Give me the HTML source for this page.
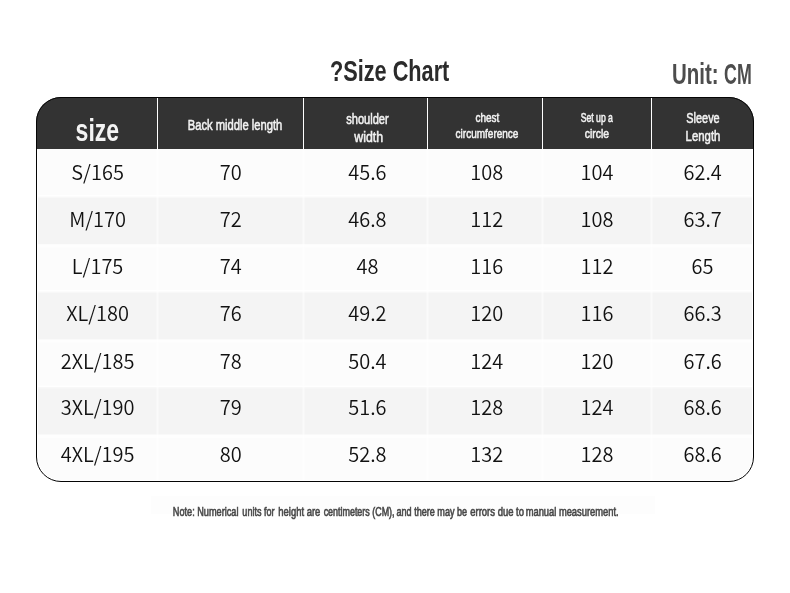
<!DOCTYPE html>
<html lang="en"><head><meta charset="utf-8"><title>Size Chart</title>
<style>
html,body{margin:0;padding:0;background:#fff;}
body{width:790px;height:593px;overflow:hidden;}
svg{display:block}
.d{font-size:20px;fill:#111;font-weight:350}
</style></head><body>
<svg width="790" height="593" viewBox="0 0 790 593">
<rect width="790" height="593" fill="#ffffff"/>
<rect x="151" y="496" width="504" height="18" fill="#fdfdfd"/>
<defs><clipPath id="c"><rect x="36.0" y="97.0" width="718.0" height="385.0" rx="25" ry="25"/></clipPath><clipPath id="ci"><rect x="38.0" y="97.0" width="714.0" height="383.0" rx="23" ry="23"/></clipPath></defs>
<g clip-path="url(#ci)">
<rect x="36.0" y="149.00" width="718.0" height="48.30" fill="#fcfcfc"/>
<rect x="36.0" y="196.80" width="718.0" height="47.90" fill="#f4f4f4"/>
<rect x="36.0" y="244.20" width="718.0" height="48.10" fill="#fcfcfc"/>
<rect x="36.0" y="291.80" width="718.0" height="48.10" fill="#f4f4f4"/>
<rect x="36.0" y="339.40" width="718.0" height="48.30" fill="#fcfcfc"/>
<rect x="36.0" y="387.20" width="718.0" height="47.80" fill="#f4f4f4"/>
<rect x="36.0" y="434.50" width="718.0" height="47.00" fill="#fcfcfc"/>
<rect x="36.0" y="195.00" width="718.0" height="1.8" fill="#ffffff" opacity="0.8"/>
<rect x="36.0" y="196.80" width="718.0" height="1.5" fill="#fcfcfc" opacity="0.5"/>
<rect x="36.0" y="244.50" width="718.0" height="3" fill="#ffffff" opacity="0.7"/>
<rect x="36.0" y="290.00" width="718.0" height="1.8" fill="#ffffff" opacity="0.8"/>
<rect x="36.0" y="291.80" width="718.0" height="1.5" fill="#fcfcfc" opacity="0.5"/>
<rect x="36.0" y="339.70" width="718.0" height="3" fill="#ffffff" opacity="0.7"/>
<rect x="36.0" y="385.40" width="718.0" height="1.8" fill="#ffffff" opacity="0.8"/>
<rect x="36.0" y="387.20" width="718.0" height="1.5" fill="#fcfcfc" opacity="0.5"/>
<rect x="36.0" y="434.80" width="718.0" height="3" fill="#ffffff" opacity="0.7"/>
<rect x="156.50" y="149.0" width="2" height="333.0" fill="#ffffff" opacity="0.5"/>
<rect x="302.50" y="149.0" width="2" height="333.0" fill="#ffffff" opacity="0.5"/>
<rect x="426.50" y="149.0" width="2" height="333.0" fill="#ffffff" opacity="0.5"/>
<rect x="541.50" y="149.0" width="2" height="333.0" fill="#ffffff" opacity="0.5"/>
<rect x="650.50" y="149.0" width="2" height="333.0" fill="#ffffff" opacity="0.5"/>
</g>
<g clip-path="url(#c)">
<rect x="36.0" y="97.0" width="718.0" height="52.0" fill="#333333"/>
<rect x="157" y="97.0" width="1" height="52.0" fill="#ffffff"/>
<rect x="303" y="97.0" width="1" height="52.0" fill="#ffffff"/>
<rect x="427" y="97.0" width="1" height="52.0" fill="#ffffff"/>
<rect x="542" y="97.0" width="1" height="52.0" fill="#ffffff"/>
<rect x="651" y="97.0" width="1" height="52.0" fill="#ffffff"/>
</g>
<rect x="36.5" y="97.5" width="717.0" height="384.0" rx="24.5" ry="24.5" fill="none" stroke="#050505" stroke-width="1"/>
<text x="97.6" y="180.0" text-anchor="middle" font-family="'Noto Sans CJK SC', 'Liberation Sans', sans-serif" class="d">S/165</text>
<text x="230.8" y="180.0" text-anchor="middle" font-family="'Noto Sans CJK SC', 'Liberation Sans', sans-serif" class="d">70</text>
<text x="367.4" y="180.0" text-anchor="middle" font-family="'Noto Sans CJK SC', 'Liberation Sans', sans-serif" class="d">45.6</text>
<text x="486.8" y="180.0" text-anchor="middle" font-family="'Noto Sans CJK SC', 'Liberation Sans', sans-serif" class="d">108</text>
<text x="597.1" y="180.0" text-anchor="middle" font-family="'Noto Sans CJK SC', 'Liberation Sans', sans-serif" class="d">104</text>
<text x="702.6" y="180.0" text-anchor="middle" font-family="'Noto Sans CJK SC', 'Liberation Sans', sans-serif" class="d">62.4</text>
<text x="97.6" y="227.0" text-anchor="middle" font-family="'Noto Sans CJK SC', 'Liberation Sans', sans-serif" class="d">M/170</text>
<text x="230.8" y="227.0" text-anchor="middle" font-family="'Noto Sans CJK SC', 'Liberation Sans', sans-serif" class="d">72</text>
<text x="367.4" y="227.0" text-anchor="middle" font-family="'Noto Sans CJK SC', 'Liberation Sans', sans-serif" class="d">46.8</text>
<text x="486.8" y="227.0" text-anchor="middle" font-family="'Noto Sans CJK SC', 'Liberation Sans', sans-serif" class="d">112</text>
<text x="597.1" y="227.0" text-anchor="middle" font-family="'Noto Sans CJK SC', 'Liberation Sans', sans-serif" class="d">108</text>
<text x="702.6" y="227.0" text-anchor="middle" font-family="'Noto Sans CJK SC', 'Liberation Sans', sans-serif" class="d">63.7</text>
<text x="97.6" y="273.8" text-anchor="middle" font-family="'Noto Sans CJK SC', 'Liberation Sans', sans-serif" class="d">L/175</text>
<text x="230.8" y="273.8" text-anchor="middle" font-family="'Noto Sans CJK SC', 'Liberation Sans', sans-serif" class="d">74</text>
<text x="367.4" y="273.8" text-anchor="middle" font-family="'Noto Sans CJK SC', 'Liberation Sans', sans-serif" class="d">48</text>
<text x="486.8" y="273.8" text-anchor="middle" font-family="'Noto Sans CJK SC', 'Liberation Sans', sans-serif" class="d">116</text>
<text x="597.1" y="273.8" text-anchor="middle" font-family="'Noto Sans CJK SC', 'Liberation Sans', sans-serif" class="d">112</text>
<text x="702.6" y="273.8" text-anchor="middle" font-family="'Noto Sans CJK SC', 'Liberation Sans', sans-serif" class="d">65</text>
<text x="97.6" y="321.2" text-anchor="middle" font-family="'Noto Sans CJK SC', 'Liberation Sans', sans-serif" class="d">XL/180</text>
<text x="230.8" y="321.2" text-anchor="middle" font-family="'Noto Sans CJK SC', 'Liberation Sans', sans-serif" class="d">76</text>
<text x="367.4" y="321.2" text-anchor="middle" font-family="'Noto Sans CJK SC', 'Liberation Sans', sans-serif" class="d">49.2</text>
<text x="486.8" y="321.2" text-anchor="middle" font-family="'Noto Sans CJK SC', 'Liberation Sans', sans-serif" class="d">120</text>
<text x="597.1" y="321.2" text-anchor="middle" font-family="'Noto Sans CJK SC', 'Liberation Sans', sans-serif" class="d">116</text>
<text x="702.6" y="321.2" text-anchor="middle" font-family="'Noto Sans CJK SC', 'Liberation Sans', sans-serif" class="d">66.3</text>
<text x="97.6" y="368.6" text-anchor="middle" font-family="'Noto Sans CJK SC', 'Liberation Sans', sans-serif" class="d">2XL/185</text>
<text x="230.8" y="368.6" text-anchor="middle" font-family="'Noto Sans CJK SC', 'Liberation Sans', sans-serif" class="d">78</text>
<text x="367.4" y="368.6" text-anchor="middle" font-family="'Noto Sans CJK SC', 'Liberation Sans', sans-serif" class="d">50.4</text>
<text x="486.8" y="368.6" text-anchor="middle" font-family="'Noto Sans CJK SC', 'Liberation Sans', sans-serif" class="d">124</text>
<text x="597.1" y="368.6" text-anchor="middle" font-family="'Noto Sans CJK SC', 'Liberation Sans', sans-serif" class="d">120</text>
<text x="702.6" y="368.6" text-anchor="middle" font-family="'Noto Sans CJK SC', 'Liberation Sans', sans-serif" class="d">67.6</text>
<text x="97.6" y="414.6" text-anchor="middle" font-family="'Noto Sans CJK SC', 'Liberation Sans', sans-serif" class="d">3XL/190</text>
<text x="230.8" y="414.6" text-anchor="middle" font-family="'Noto Sans CJK SC', 'Liberation Sans', sans-serif" class="d">79</text>
<text x="367.4" y="414.6" text-anchor="middle" font-family="'Noto Sans CJK SC', 'Liberation Sans', sans-serif" class="d">51.6</text>
<text x="486.8" y="414.6" text-anchor="middle" font-family="'Noto Sans CJK SC', 'Liberation Sans', sans-serif" class="d">128</text>
<text x="597.1" y="414.6" text-anchor="middle" font-family="'Noto Sans CJK SC', 'Liberation Sans', sans-serif" class="d">124</text>
<text x="702.6" y="414.6" text-anchor="middle" font-family="'Noto Sans CJK SC', 'Liberation Sans', sans-serif" class="d">68.6</text>
<text x="97.6" y="462.3" text-anchor="middle" font-family="'Noto Sans CJK SC', 'Liberation Sans', sans-serif" class="d">4XL/195</text>
<text x="230.8" y="462.3" text-anchor="middle" font-family="'Noto Sans CJK SC', 'Liberation Sans', sans-serif" class="d">80</text>
<text x="367.4" y="462.3" text-anchor="middle" font-family="'Noto Sans CJK SC', 'Liberation Sans', sans-serif" class="d">52.8</text>
<text x="486.8" y="462.3" text-anchor="middle" font-family="'Noto Sans CJK SC', 'Liberation Sans', sans-serif" class="d">132</text>
<text x="597.1" y="462.3" text-anchor="middle" font-family="'Noto Sans CJK SC', 'Liberation Sans', sans-serif" class="d">128</text>
<text x="702.6" y="462.3" text-anchor="middle" font-family="'Noto Sans CJK SC', 'Liberation Sans', sans-serif" class="d">68.6</text>
<text transform="translate(329.91 80.50) scale(0.7517 1)" font-family="'Liberation Sans', sans-serif" font-weight="700" font-size="28.90" fill="#2b2b2b">?Size Chart</text>
<text transform="translate(671.97 83.70) scale(0.7116 1)" font-family="'Liberation Sans', sans-serif" font-weight="700" font-size="28.77" fill="#4d4d4d">Unit:</text>
<text transform="translate(724.09 83.70) scale(0.6105 1)" font-family="'Liberation Sans', sans-serif" font-weight="700" font-size="29.14" fill="#4d4d4d">CM</text>
<text transform="translate(75.58 140.90) scale(0.7454 1)" font-family="'Liberation Sans', sans-serif" font-weight="700" font-size="30.96" fill="#f4f4f4">size</text>
<text transform="translate(187.70 129.70) scale(0.7512 1)" font-family="'Liberation Sans', sans-serif" font-weight="400" font-size="14.93" fill="#f2f2f2" stroke="#f2f2f2" stroke-width="0.5" vector-effect="non-scaling-stroke">Back middle length</text>
<text transform="translate(346.17 123.80) scale(0.7508 1)" font-family="'Liberation Sans', sans-serif" font-weight="400" font-size="14.79" fill="#f2f2f2" stroke="#f2f2f2" stroke-width="0.5" vector-effect="non-scaling-stroke">shoulder</text>
<text transform="translate(354.20 142.20) scale(0.8367 1)" font-family="'Liberation Sans', sans-serif" font-weight="400" font-size="14.79" fill="#f2f2f2" stroke="#f2f2f2" stroke-width="0.5" vector-effect="non-scaling-stroke">width</text>
<text transform="translate(475.50 122.00) scale(0.8260 1)" font-family="'Liberation Sans', sans-serif" font-weight="400" font-size="12.05" fill="#f2f2f2" stroke="#f2f2f2" stroke-width="0.5" vector-effect="non-scaling-stroke">chest</text>
<text transform="translate(455.60 137.90) scale(0.7779 1)" font-family="'Liberation Sans', sans-serif" font-weight="400" font-size="12.88" fill="#f2f2f2" stroke="#f2f2f2" stroke-width="0.5" vector-effect="non-scaling-stroke">circumference</text>
<text transform="translate(580.77 122.10) scale(0.6647 1)" font-family="'Liberation Sans', sans-serif" font-weight="400" font-size="13.00" fill="#f2f2f2" stroke="#f2f2f2" stroke-width="0.5" vector-effect="non-scaling-stroke">Set up a</text>
<text transform="translate(584.68 138.10) scale(0.8026 1)" font-family="'Liberation Sans', sans-serif" font-weight="400" font-size="13.01" fill="#f2f2f2" stroke="#f2f2f2" stroke-width="0.5" vector-effect="non-scaling-stroke">circle</text>
<text transform="translate(686.35 122.70) scale(0.7445 1)" font-family="'Liberation Sans', sans-serif" font-weight="400" font-size="14.66" fill="#f2f2f2" stroke="#f2f2f2" stroke-width="0.5" vector-effect="non-scaling-stroke">Sleeve</text>
<text transform="translate(685.59 140.70) scale(0.7618 1)" font-family="'Liberation Sans', sans-serif" font-weight="400" font-size="14.93" fill="#f2f2f2" stroke="#f2f2f2" stroke-width="0.5" vector-effect="non-scaling-stroke">Length</text>
<text transform="translate(172.77 515.80) scale(0.7698 1)" font-family="'Liberation Sans', sans-serif" font-weight="400" font-size="11.92" fill="#484848" stroke="#484848" stroke-width="0.55" vector-effect="non-scaling-stroke">Note: Numerical</text>
<text transform="translate(242.37 515.80) scale(0.7569 1)" font-family="'Liberation Sans', sans-serif" font-weight="400" font-size="11.92" fill="#484848" stroke="#484848" stroke-width="0.55" vector-effect="non-scaling-stroke">units for</text>
<text transform="translate(278.34 515.80) scale(0.7926 1)" font-family="'Liberation Sans', sans-serif" font-weight="400" font-size="11.92" fill="#484848" stroke="#484848" stroke-width="0.55" vector-effect="non-scaling-stroke">height are</text>
<text transform="translate(323.64 515.80) scale(0.7500 1)" font-family="'Liberation Sans', sans-serif" font-weight="400" font-size="11.92" fill="#484848" stroke="#484848" stroke-width="0.55" vector-effect="non-scaling-stroke">centimeters (CM),</text>
<text transform="translate(396.54 515.80) scale(0.7617 1)" font-family="'Liberation Sans', sans-serif" font-weight="400" font-size="11.92" fill="#484848" stroke="#484848" stroke-width="0.55" vector-effect="non-scaling-stroke">and there may be</text>
<text transform="translate(470.22 515.80) scale(0.7971 1)" font-family="'Liberation Sans', sans-serif" font-weight="400" font-size="11.92" fill="#484848" stroke="#484848" stroke-width="0.55" vector-effect="non-scaling-stroke">errors due to</text>
<text transform="translate(525.65 515.80) scale(0.7842 1)" font-family="'Liberation Sans', sans-serif" font-weight="400" font-size="11.92" fill="#484848" stroke="#484848" stroke-width="0.55" vector-effect="non-scaling-stroke">manual measurement.</text>
</svg>
</body></html>
